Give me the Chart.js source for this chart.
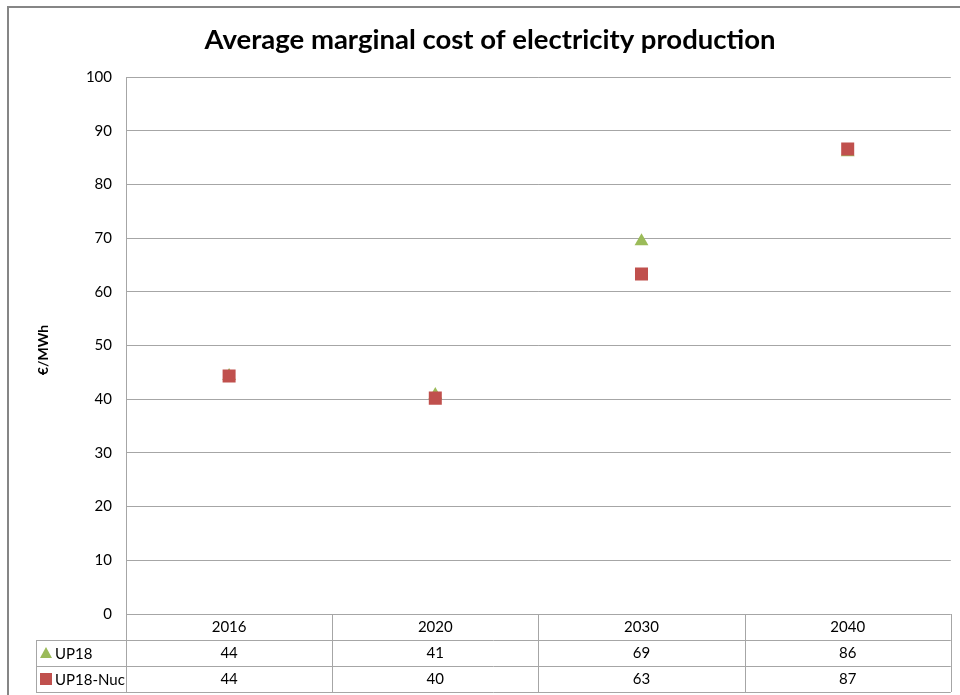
<!DOCTYPE html>
<html>
<head>
<meta charset="utf-8">
<script src="https://cdn.jsdelivr.net/npm/chart.js@4/dist/chart.umd.min.js"></script>
<style>
  html, body { margin: 0; padding: 0; background: #fff; }
  canvas { display: block; }
</style>
</head>
<body>
<canvas id="chart" width="960" height="695"></canvas>
<script>
let years = ['2016', '2020', '2030', '2040'];
let up18 = [44.3, 40.8, 69.4, 86.0];
let up18Nuc = [44.3, 40.2, 63.3, 86.6];
let seriesNames = ['UP18', 'UP18-Nuc'];

let fontFamily = "Lato, 'Liberation Sans', sans-serif";
let gridColor = '#a6a6a6';

// data table under the plot, columns follow the x scale
let dataTable = {
    id: 'dataTable',
    beforeDraw: function (chart) {
        let ctx = chart.ctx;
        ctx.save();
        ctx.strokeStyle = '#868686';
        ctx.lineWidth = 2;
        ctx.strokeRect(8, 7, 970, 720);
        ctx.restore();
    },
    afterDraw: function (chart) {
        let ctx = chart.ctx;
        let area = chart.chartArea;
        let xs = chart.scales.x;
        let rowH = 26;
        let top = area.bottom;
        let legendLeft = 36;
        let step = (area.right - area.left) / years.length;

        ctx.save();
        ctx.strokeStyle = gridColor;
        ctx.lineWidth = 1;
        ctx.beginPath();
        // horizontal lines
        for (let r = 1; r <= 3; r++) {
            let y = Math.round(top + r * rowH) + 0.5;
            ctx.moveTo(legendLeft, y);
            ctx.lineTo(area.right, y);
        }
        // vertical lines
        for (let c = 0; c <= years.length; c++) {
            let x = Math.round(area.left + c * step) + 0.5;
            ctx.moveTo(x, top);
            ctx.lineTo(x, top + 3 * rowH);
        }
        ctx.moveTo(legendLeft + 0.5, top + rowH);
        ctx.lineTo(legendLeft + 0.5, top + 3 * rowH);
        ctx.stroke();

        ctx.fillStyle = '#000';
        ctx.font = '15px ' + fontFamily;
        ctx.textAlign = 'center';
        ctx.textBaseline = 'middle';
        years.forEach(function (yr, i) {
            let cx = xs.getPixelForValue(i);
            ctx.fillText(yr, cx, top + rowH / 2);
            ctx.fillText(String(Math.round(up18[i])), cx, top + rowH * 1.5);
            ctx.fillText(String(Math.round(up18Nuc[i])), cx, top + rowH * 2.5);
        });

        // legend keys
        ctx.textAlign = 'left';
        chart.data.datasets.forEach(function (ds, i) {
            let cy = top + rowH * (1.5 + i);
            ctx.fillStyle = ds.backgroundColor;
            ctx.beginPath();
            if (ds.pointStyle === 'triangle') {
                ctx.moveTo(46, cy - 6);
                ctx.lineTo(52, cy + 5);
                ctx.lineTo(40, cy + 5);
                ctx.closePath();
            } else {
                ctx.rect(40, cy - 6, 12, 12);
            }
            ctx.fill();
            ctx.fillStyle = '#000';
            ctx.fillText(ds.label, 55, cy + 1);
        });

        // y axis title
        ctx.save();
        ctx.translate(43, 350);
        ctx.rotate(-Math.PI / 2);
        ctx.textAlign = 'center';
        ctx.font = 'bold 14px ' + fontFamily;
        ctx.fillText('€/MWh', 0, 0);
        ctx.restore();

        // chart title
        ctx.textAlign = 'center';
        ctx.font = 'bold 27.5px ' + fontFamily;
        ctx.fillText('Average marginal cost of electricity production', 490, 40);
        ctx.restore();
    }
};

let ctx = document.getElementById('chart').getContext('2d');

new Chart(ctx, {
    type: 'line',
    data: {
        labels: years,
        datasets: [
            {
                label: seriesNames[0],
                data: up18,
                order: 2,
                showLine: false,
                pointStyle: 'triangle',
                pointRadius: 8,
                pointHoverRadius: 8,
                borderWidth: 0,
                backgroundColor: '#9BBB59',
                borderColor: '#9BBB59'
            },
            {
                label: seriesNames[1],
                data: up18Nuc,
                order: 1,
                showLine: false,
                pointStyle: 'rect',
                pointRadius: 9.2,
                pointHoverRadius: 9.2,
                borderWidth: 0,
                backgroundColor: '#C0504D',
                borderColor: '#C0504D'
            }
        ]
    },
    plugins: [dataTable],
    options: {
        responsive: false,
        animation: false,
        layout: {
            padding: { left: 0, right: 7, top: 77, bottom: 81 }
        },
        plugins: {
            legend: { display: false },
            title: { display: false },
            tooltip: { enabled: false }
        },
        scales: {
            x: {
                offset: true,
                ticks: { display: false },
                grid: { display: false },
                border: { display: false },
                afterFit: function (scale) { scale.height = 0; }
            },
            y: {
                min: 0,
                max: 100,
                ticks: {
                    stepSize: 10,
                    color: '#000',
                    padding: 14,
                    font: { family: fontFamily, size: 15 }
                },
                grid: { color: gridColor, drawTicks: false },
                border: { color: gridColor },
                afterFit: function (scale) { scale.width = 126; }
            }
        }
    }
});
</script>
</body>
</html>
